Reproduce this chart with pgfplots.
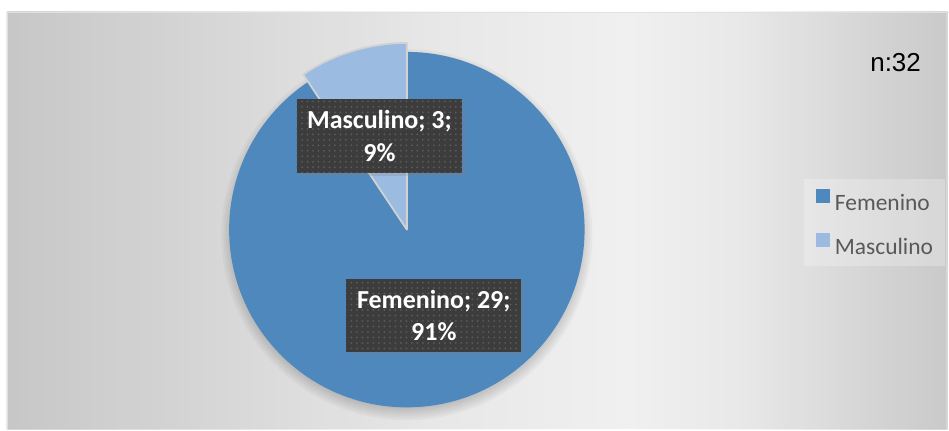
\documentclass[border=0pt]{standalone}
\usepackage{pgfplots}
\pgfplotsset{compat=1.18}
\usepackage{pgfplotstable}
\usepackage{fontspec}
\setmainfont{Carlito}
\newfontfamily\arialfont{Liberation Sans}
\usetikzlibrary{patterns.meta,shadows,fadings}
\definecolor{fem}{RGB}{79,136,189}
\definecolor{mas}{RGB}{155,187,224}
\definecolor{boxc}{RGB}{60,60,60}
\definecolor{dotc}{RGB}{92,92,92}
\definecolor{legtext}{RGB}{89,89,89}
\definecolor{edgegray}{RGB}{210,210,210}
\pgfdeclarehorizontalshading{bgshade}{100bp}{
  rgb(0bp)=(0.83,0.83,0.83);
  rgb(25bp)=(0.83,0.83,0.83);
  rgb(35bp)=(0.89,0.89,0.89);
  rgb(47.5bp)=(0.965,0.965,0.965);
  rgb(58bp)=(1,1,1);
  rgb(64bp)=(0.97,0.97,0.97);
  rgb(75bp)=(0.84,0.84,0.84);
  rgb(100bp)=(0.84,0.84,0.84)}
\tikzfading[name=vfade, top color=transparent!0, middle color=transparent!100, bottom color=transparent!0]

\pgfplotstableread{
label value
Femenino 29
Masculino 3
}\piedata

\begin{document}
\begin{tikzpicture}
\pgfplotstablegetelem{0}{value}\of\piedata \let\vF\pgfplotsretval
\pgfplotstablegetelem{1}{value}\of\piedata \let\vM\pgfplotsretval
\pgfmathtruncatemacro\tot{\vF+\vM}
\pgfmathsetmacro\angF{360*\vF/\tot}
\pgfmathsetmacro\angM{360*\vM/\tot}
\pgfmathsetmacro\endF{90-\angF}
\pgfmathsetmacro\endM{90+\angM}
\pgfmathtruncatemacro\pF{round(100*\vF/\tot)}
\pgfmathtruncatemacro\pM{round(100*\vM/\tot)}
\begin{axis}[width=949pt,height=430pt,scale only axis,
  xmin=0,xmax=949,ymin=0,ymax=430,hide axis,clip=false,
  legend image code/.code={\fill[#1,fill opacity=1,draw=none] (0pt,0pt) rectangle (14pt,14pt);},
  legend cell align=left,
  legend style={at={(axis cs:805,251)},anchor=north west,draw=none,
    fill=white,fill opacity=0.25,text opacity=1,
    font=\fontsize{23.5}{27}\selectfont,text=legtext,
    inner xsep=12pt,inner ysep=10pt,row sep=21pt,
    nodes={inner sep=0pt},
    /tikz/every odd column/.append style={column sep=5pt}},
]
% page box
\path (0,0) rectangle (949,430);
% background
\fill[shading=bgshade] (7,0) rectangle (949,418);
\fill[black,opacity=0.06,path fading=vfade] (7,0) rectangle (949,418);
\draw[white!88!black,line width=1pt] (7.5,-1) -- (7.5,417.5) -- (950,417.5);
% pie shadow
\pgfplotsinvokeforeach{0,...,6}{
  \fill[black,opacity=0.03] (407.5,195) circle ({172pt+2.3pt*#1});
}
% slices
\fill[fem] (407.5,200) -- ++(90:178pt) arc[start angle=90,end angle=\endF,radius=178pt] -- cycle;
\filldraw[fill=mas,draw=edgegray,line width=1.8pt,line join=round]
  (407.5,200) -- ++(90:187pt) arc[start angle=90,end angle=\endM,radius=187pt] -- cycle;
% data labels
\node[fill=boxc,minimum width=166pt,minimum height=74pt,inner sep=0pt,align=center,text=white,
  font=\bfseries\fontsize{26}{33}\selectfont,
  drop shadow={shadow xshift=3pt,shadow yshift=-3pt,opacity=0.25},
  postaction={pattern={Dots[distance=5.5pt,radius=1pt]},pattern color=dotc}]
  at (380,294) {Masculino; \vM;\\\pM\%};
\node[fill=boxc,minimum width=175pt,minimum height=74pt,inner sep=0pt,align=center,text=white,
  font=\bfseries\fontsize{26}{33}\selectfont,
  drop shadow={shadow xshift=3pt,shadow yshift=-3pt,opacity=0.25},
  postaction={pattern={Dots[distance=5.5pt,radius=1pt]},pattern color=dotc}]
  at (434.5,114) {Femenino; \vF;\\\pF\%};
% n
\node[font=\arialfont\fontsize{26}{30}\selectfont,anchor=base,text=black] at (897,358) {n:\tot};
\addlegendimage{fill=fem}
\addlegendentry{Femenino}
\addlegendimage{fill=mas}
\addlegendentry{Masculino}
\end{axis}
\end{tikzpicture}
\end{document}
